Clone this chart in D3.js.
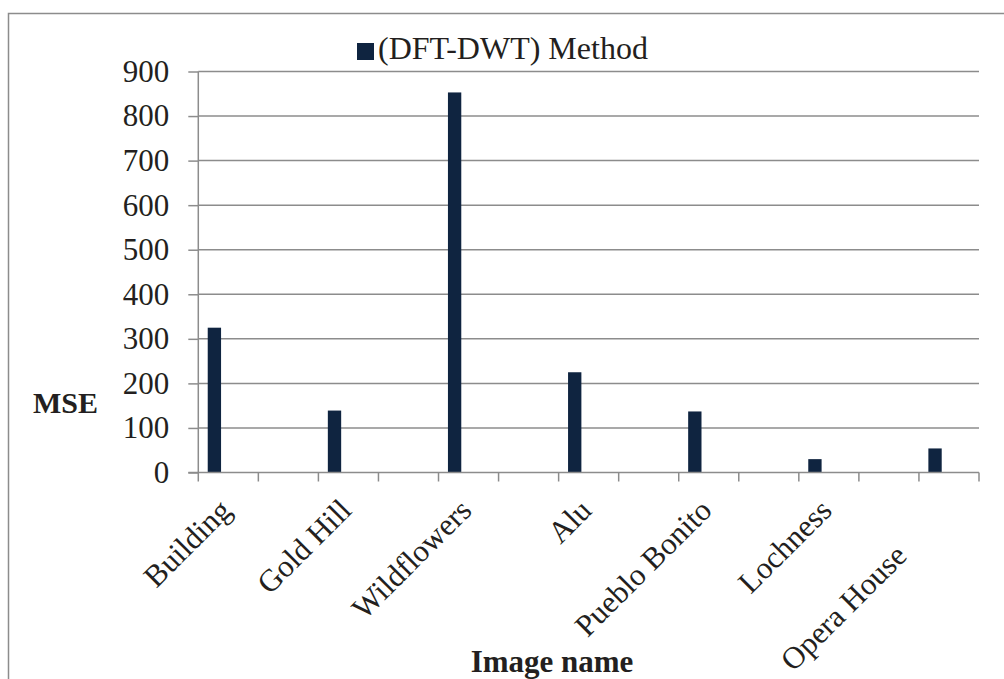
<!DOCTYPE html>
<html>
<head>
<meta charset="utf-8">
<script src="https://cdn.jsdelivr.net/npm/d3@7"></script>
<style>
  html, body { margin: 0; padding: 0; background: #fff; }
  svg { display: block; }
</style>
</head>
<body>
<svg id="chart" width="1004" height="679"></svg>
<script>
// MSE of the (DFT-DWT) method for each test image
const categories = ["Building", "Gold Hill", "Wildflowers", "Alu", "Pueblo Bonito", "Lochness", "Opera House"];
const mseValues = [325, 139, 853, 225, 137, 30, 54];
const yTicks = [0, 100, 200, 300, 400, 500, 600, 700, 800, 900];
const seriesName = "(DFT-DWT) Method";
const yTitle = "MSE";
const xTitle = "Image name";

const svg = d3.select("#chart");
const W = 1004, H = 679;
const plot = { left: 198.3, right: 979, top: 71.5, bottom: 472.5 };
const barColor = "#0f2440";
const gridColor = "#8c8c8c";
const textColor = "#231f20";
const serif = '"Liberation Serif", "Times New Roman", Times, serif';
const fontSize = 31;

function styleText(sel, size, weight) {
  return sel
    .style("font-family", serif)
    .style("font-size", size + "px")
    .style("font-weight", weight || "normal")
    .style("fill", textColor);
}

// outer chart frame (runs past the right and bottom edges)
svg.append("rect")
  .attr("x", 8.5).attr("y", 13.5)
  .attr("width", W + 40).attr("height", H + 40)
  .attr("fill", "none").attr("stroke", gridColor).attr("stroke-width", 1.5);

// each image gets a slot, with an empty slot between neighbours
const slots = [];
categories.forEach((c, i) => {
  slots.push(c);
  if (i < categories.length - 1) slots.push("__gap" + i);
});

const x = d3.scaleBand().domain(slots).range([plot.left, plot.right]).padding(0);
const y = d3.scaleLinear().domain([0, 900]).range([plot.bottom, plot.top]);

// horizontal gridlines
svg.append("g")
  .selectAll("line")
  .data(yTicks.filter(d => d > 0))
  .join("line")
  .attr("x1", plot.left).attr("x2", plot.right)
  .attr("y1", d => y(d)).attr("y2", d => y(d))
  .attr("stroke", gridColor).attr("stroke-width", 1.5);

// bars: first position within each slot
const bw = x.bandwidth();
svg.append("g")
  .selectAll("rect")
  .data(categories.map((c, i) => ({ c, v: mseValues[i] })))
  .join("rect")
  .attr("x", d => x(d.c) + bw * 0.157)
  .attr("width", bw * 0.222)
  .attr("y", d => y(d.v))
  .attr("height", d => y(0) - y(d.v))
  .attr("fill", barColor);

// y axis
const yAxis = svg.append("g")
  .attr("transform", `translate(${plot.left},0)`)
  .call(d3.axisLeft(y).tickValues(yTicks).tickSize(10).tickPadding(19).tickFormat(d3.format("d")));
yAxis.attr("font-family", null).attr("font-size", null);
yAxis.select(".domain").attr("stroke", gridColor).attr("stroke-width", 1.5).attr("d", `M0,${plot.top}V${plot.bottom}`);
yAxis.selectAll(".tick line").attr("stroke", gridColor).attr("stroke-width", 1.5);
styleText(yAxis.selectAll(".tick text"), fontSize);

// x axis line and slot boundary ticks
const xa = svg.append("g");
xa.append("line")
  .attr("x1", plot.left - 10).attr("x2", plot.right)
  .attr("y1", plot.bottom).attr("y2", plot.bottom)
  .attr("stroke", gridColor).attr("stroke-width", 1.5);
const boundaries = slots.map(s => x(s)).concat([plot.right]);
xa.selectAll("line.tk")
  .data(boundaries)
  .join("line")
  .attr("class", "tk")
  .attr("x1", d => d).attr("x2", d => d)
  .attr("y1", plot.bottom).attr("y2", plot.bottom + 9)
  .attr("stroke", gridColor).attr("stroke-width", 1.5);

// rotated category labels; the last one slides down along its baseline
const lastShift = 64;
styleText(xa.selectAll("text.cat")
  .data(categories)
  .join("text")
  .attr("class", "cat")
  .attr("text-anchor", "end")
  .attr("dy", "0.35em")
  .attr("transform", (d, i) => {
    const cx = x(d) + bw / 2 - 3;
    const cy = plot.bottom + 32;
    const s = i === categories.length - 1 ? lastShift / Math.SQRT2 : 0;
    return `translate(${cx - s},${cy + s}) rotate(-45)`;
  })
  .text(d => d), fontSize);

// axis titles
styleText(svg.append("text")
  .attr("x", 33).attr("y", 413)
  .text(yTitle), 30, "bold");
styleText(svg.append("text")
  .attr("x", 552).attr("y", 672)
  .attr("text-anchor", "middle")
  .text(xTitle), fontSize, "bold");

// legend
const lg = svg.append("g");
lg.append("rect")
  .attr("x", 357).attr("y", 43).attr("width", 17).attr("height", 17)
  .attr("fill", barColor);
styleText(lg.append("text")
  .attr("x", 378).attr("y", 59)
  .text(seriesName), 32);
</script>
</body>
</html>
